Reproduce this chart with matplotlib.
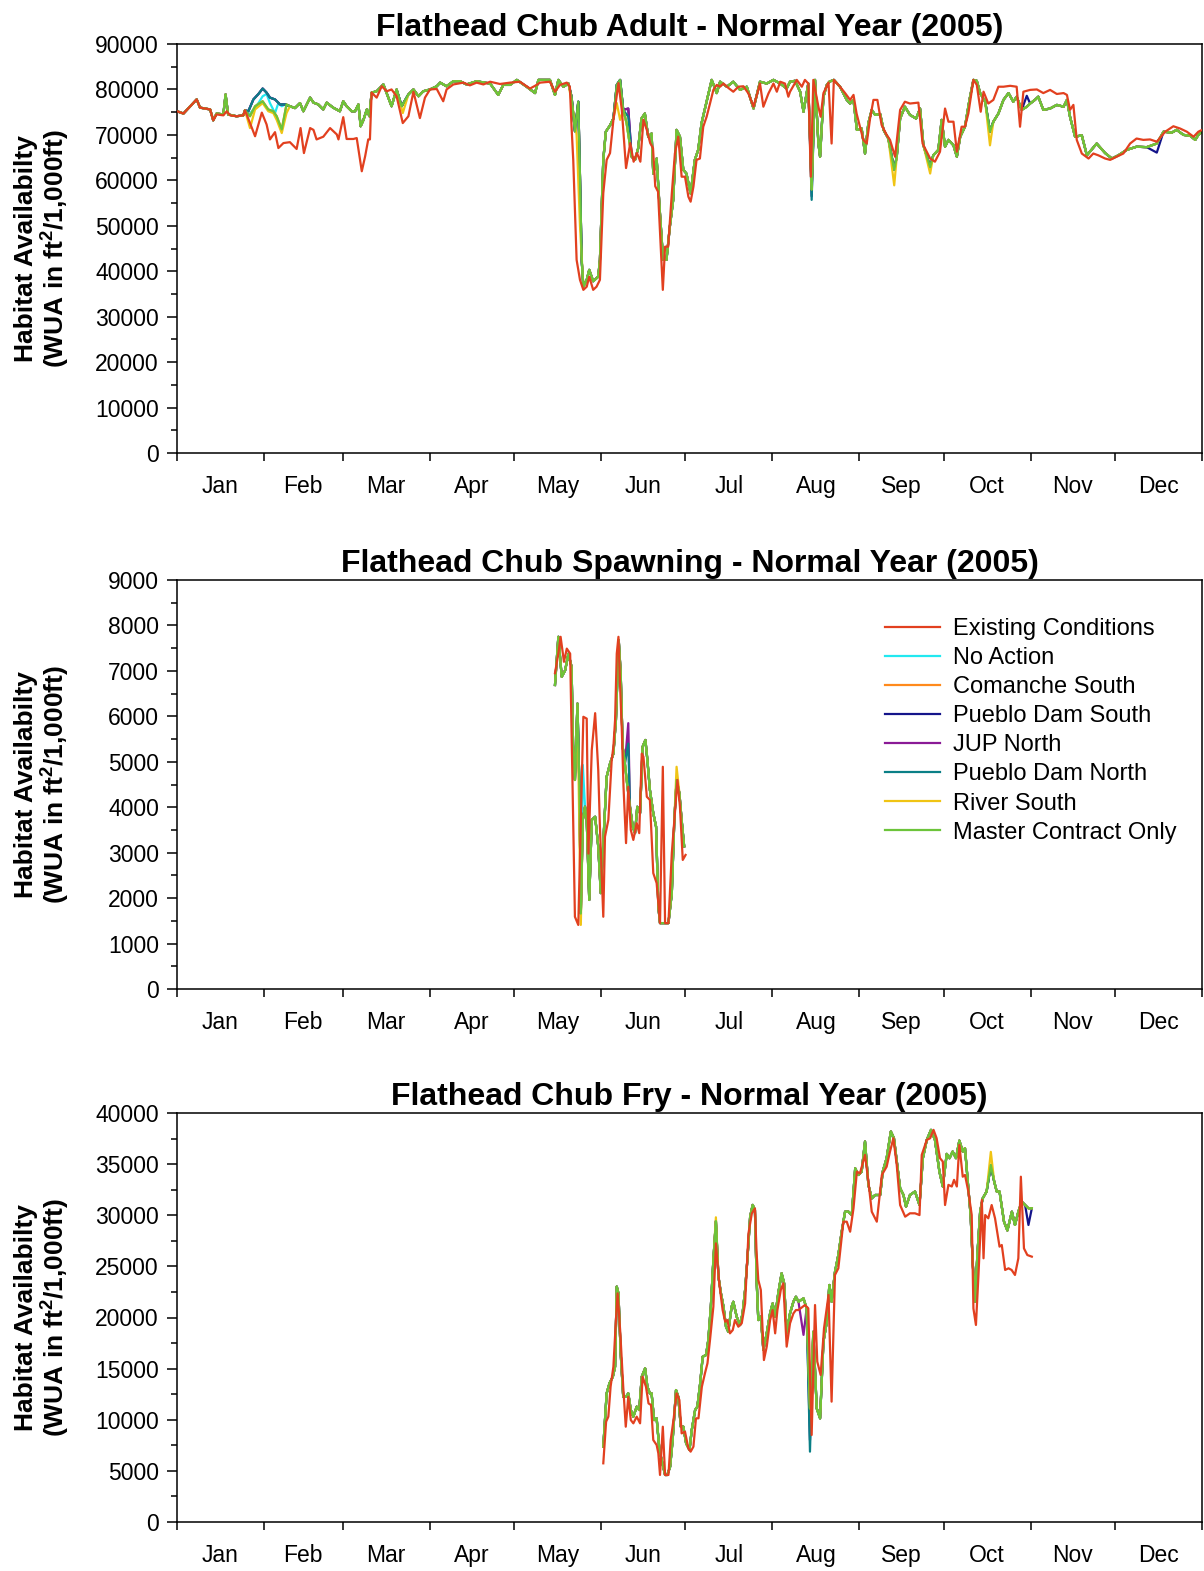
import matplotlib.pyplot as plt
from matplotlib.ticker import MultipleLocator

plt.rcParams['font.family'] = ['Liberation Sans', 'DejaVu Sans']
plt.rcParams['mathtext.fontset'] = 'custom'
plt.rcParams['mathtext.rm'] = 'Liberation Sans:bold'
plt.rcParams['mathtext.default'] = 'rm'

scenarios = ["Existing Conditions", "No Action", "Comanche South", "Pueblo Dam South",
             "JUP North", "Pueblo Dam North", "River South", "Master Contract Only"]
colors = ["#e2401f", "#22e8f0", "#ff8a1c", "#14148a", "#8a1a96", "#0a7f86", "#f0c414", "#6cc43a"]

month_starts = [0, 31, 59, 90, 120, 151, 181, 212, 243, 273, 304, 334, 365]
month_names = ["Jan", "Feb", "Mar", "Apr", "May", "Jun", "Jul", "Aug", "Sep", "Oct", "Nov", "Dec"]

# ---------------- Adult ----------------
adult_ec_day = [0, 2.3, 7, 8.2, 11.8, 12.9, 14.1, 16.5, 17.7, 18.9, 21.2, 23.6, 24.2, 26, 27.8, 30.2,
                31.9, 33.1, 34.9, 36.1, 37.9, 40.2, 42.6, 44, 45.2, 47.4, 48.6, 49.7, 52.1, 54.5, 56.9,
                57.5, 59.2, 60.4, 62.8, 64, 65.8, 67, 68.1, 68.7, 69.3, 71.1, 72.9, 74.7, 76.4, 78.2,
                80.4, 82.4, 84.2, 86.5, 88.3, 90.1, 92.5, 94.8, 96, 98.4, 102, 104.3, 106.7, 109.1,
                111.5, 115.0, 118.6, 122.1, 125.7, 127.5, 129.3, 132.8, 134.6, 136.4, 138.8, 139.9,
                140.5, 141.1, 142.3, 143.5, 144.7, 145.9, 146.8, 148.2, 149.4, 150.6, 151.8, 153.0,
                154.2, 155.4, 157.2, 158.4, 159.9, 161.4, 162.6, 163.8, 165.0, 166.1, 167.3, 168.5,
                169.5, 170.3, 171.3, 173.0, 173.8, 174.9, 176.2, 177.3, 178.5, 179.7, 180.9, 182.1,
                182.9, 183.9, 185.0, 186.2, 187.4, 188.6, 189.8, 191.0, 192.2, 193.4, 194.6, 196.4,
                198.1, 199.9, 201.7, 203.5, 205.3, 207.0, 207.6, 208.8, 210.6, 212.4, 213.6, 214.8,
                216.5, 217.7, 218.3, 220.7, 222.5, 223.6, 224.8, 225.7, 226.6, 228.4, 229.2, 230.2,
                232.0, 233.1, 233.9, 236.1, 237.9, 239.7, 240.9, 242.0, 243.2, 244.4, 245.6, 246.8,
                248.0, 249.4, 250.9, 252.7, 253.9, 255.7, 257.5, 259.2, 261.0, 264.0, 265.5, 268.2,
                269.9, 271.7, 273.5, 274.7, 276.5, 277.7, 279.4, 280.6, 281.8, 283.6, 284.8, 286.2,
                287.2, 288.9, 290.7, 292.5, 294.3, 296.7, 299.0, 300.2, 301.4, 303.8, 306.2, 308.5,
                310.9, 313.3, 315.7, 316.9, 318.0, 319.2, 320.4, 322.2, 324.6, 326.3, 328.1, 330.5,
                332.3, 334.6, 337.0, 339.4, 341.7, 344.1, 346.5, 348.9, 351.9, 354.8, 357.2, 359.6,
                362.0, 363.7, 365.0]
adult_ec_val = [75200, 74700, 77800, 76000, 75600, 73200, 74500, 74300, 75200, 74300, 74100, 74300, 75400,
                72600, 69700, 74900, 72300, 69000, 70600, 67100, 68200, 68400, 66900, 71500, 66000,
                71500, 71100, 69000, 69600, 71500, 70100, 69000, 73900, 69100, 69100, 69300, 62000,
                65300, 69000, 69000, 79300, 78200, 80700, 79600, 80000, 78500, 72600, 74100, 79500,
                73700, 78200, 80000, 80100, 77400, 80000, 81100, 81500, 80900, 81500, 81100,
                81700, 81200, 81500, 81700, 80200, 80800, 81500, 81700, 79500, 81000, 81500, 80600,
                71800, 64500, 42500, 38100, 35900, 36600, 38800, 35900, 36600, 38100, 57200, 64500,
                66000, 73300, 81400, 75500, 62700, 68200, 64100, 66000, 64100, 73300, 71100, 68200,
                67100, 58700, 57500, 35900, 45400, 45400, 57100, 65900, 69600, 60800, 60800, 56400,
                55300, 58600, 64500, 64800, 71800, 74000, 76900, 79900, 81000, 80600, 81300, 80300,
                79500, 80600, 80700, 79100, 76200, 79900, 81300, 76200, 79100, 81300, 79500, 81700,
                81300, 78400, 79500, 82100, 80600, 82100, 81300, 60800, 82100, 76200, 74000, 79200,
                81500, 68100, 82100, 80600, 79200, 77700, 78800, 74700, 71800, 68900, 68100, 73600,
                77700, 77700, 72200, 70000, 68900, 65200, 75500, 77300, 76900, 77100, 68100, 64800,
                64100, 66300, 75800, 72900, 72900, 66300, 71800, 71800, 74700, 82100, 81000, 75100,
                79500, 76900, 77700, 80600, 80600, 80800, 80600, 71800, 79500, 79900, 80000, 79200,
                79900, 79000, 79200, 78800, 75500, 76600, 68900, 65900, 64800, 65900, 65500, 64800,
                64500, 65200, 65900, 68100, 69200, 68900, 69000, 68500, 70700, 71900, 71400, 70700,
                69600, 70700, 71100]

adult_alt_day = [0, 2.3, 7, 8.2, 11.8, 12.9, 14.1, 16.5, 17.3, 18.2, 21.2, 23.6, 24.2, 26, 27.8, 30.5,
                 32.5, 34.3, 35.5, 37.3, 39.0, 40.2, 42, 43.8, 45, 47.4, 48.6, 50.3, 52.1, 53.3, 55.6,
                 58, 59.2, 60.4, 62.2, 63.4, 64.6, 65.4, 66.4, 67.6, 68.5, 69.3, 71.1, 73.5, 76.4, 78.2,
                 80, 82.4, 84.2, 86, 87.7, 90.1, 92.5, 93.7, 96, 98.4, 100.8, 103.1, 106.7, 111.5,
                 114.4, 116.2, 118.6, 121.0, 124.5, 127.5, 128.7, 132.8, 134.6, 135.8, 137.6, 139.4,
                 140.5, 141.7, 142.9, 143.5, 144.1, 144.7, 145.9, 146.8, 148.2, 150.0, 150.6, 151.8,
                 152.7, 154.2, 155.4, 156.6, 157.8, 158.9, 160.1, 161.9, 163.1, 164.2, 165.4, 166.6,
                 167.8, 169.0, 169.6, 170.8, 171.9, 173.1, 174.3, 175.5, 176.7, 177.9, 179.1, 180.3,
                 181.4, 182.9, 184.4, 185.6, 186.8, 188.6, 190.4, 192.2, 193.4, 195.8, 198.1, 200.5,
                 202.9, 205.3, 207.6, 210.0, 212.4, 214.8, 217.1, 218.3, 220.1, 221.9, 223.1, 224.0,
                 224.8, 226.0, 227.2, 228.4, 229.0, 230.2, 231.4, 232.3, 233.9, 236.1, 238.5, 239.7,
                 240.9, 242.1, 243.8, 245.0, 246.2, 247.4, 248.6, 250.4, 251.6, 253.3, 255.4, 256.3,
                 257.5, 259.2, 261.0, 263.2, 264.6, 265.8, 268.2, 269.3, 271.1, 272.3, 273.5, 274.7,
                 276.5, 277.7, 278.9, 280.6, 282.2, 283.6, 284.8, 286.0, 287.8, 289.5, 290.7, 292.5,
                 294.3, 296.1, 297.8, 299.0, 300.8, 302.6, 303.8, 305.5, 306.7, 308.5, 310.9, 313.3,
                 315.7, 316.9, 318.0, 319.8, 322.2, 324.0, 327.5, 330.5, 332.9, 335.2, 338.2, 341.7,
                 345.3, 348.9, 351.3, 354.2, 356.0, 358.4, 360.8, 362.6, 363.7, 365.0]
adult_alt_val = [75200, 74700, 77800, 76000, 75600, 73200, 74700, 74500, 78900, 74500, 74100, 74300, 75400,
                 74100, 76300, 77400, 75600, 75200, 74100, 71200, 76700, 76300, 75900, 77000, 75200,
                 78200, 77100, 76700, 75600, 77100, 76000, 75200, 77400, 76300, 75200, 75200, 76700,
                 71900, 73300, 75600, 74100, 79300, 79600, 81100, 76300, 80000, 76300, 78900, 80000,
                 78500, 79600, 80000, 80700, 81500, 80700, 81800, 81800, 81100, 81800, 81300,
                 78800, 81000, 81000, 82100, 80600, 79200, 82100, 82100, 78800, 82100, 80600, 81300,
                 78400, 70800, 77300, 60800, 42500, 36600, 38100, 40300, 37800, 38800, 42500, 64500,
                 70700, 72100, 73600, 81000, 82100, 75500, 72600, 65200, 64500, 67000, 73600, 74700,
                 69600, 70300, 61500, 64800, 53500, 42500, 42500, 49800, 55700, 71100, 69600, 62300,
                 61500, 57100, 64500, 66700, 72600, 77300, 82100, 79200, 81700, 80600, 81700, 79900,
                 80600, 75800, 81700, 81300, 82100, 81300, 80200, 81700, 81900, 79500, 75100, 78400,
                 81300, 58000, 82100, 68100, 65200, 78400, 81000, 81700, 82100, 80600, 77700, 76900,
                 77700, 71100, 71400, 65900, 72600, 75500, 74400, 74600, 71100, 69200, 62300, 65200,
                 73600, 76200, 74400, 73600, 75800, 67700, 62900, 65500, 66700, 73300, 67400, 68900,
                 67700, 65200, 69600, 71800, 77700, 82100, 81900, 79200, 77300, 70700, 72900, 74700,
                 77700, 79200, 77300, 78400, 75500, 76200, 76900, 77700, 78400, 75500, 75800, 76600,
                 76200, 77700, 74000, 69600, 69900, 65500, 68100, 66000, 64800, 65500, 66700, 67400,
                 67300, 68100, 70700, 70500, 71100, 70000, 69800, 68900, 70000, 70700]

# departures of single scenarios from the shared alternative line (adult)
adult_hump_day = [24.2, 25.4, 27.2, 29.0, 30.5, 31.9, 33.1, 34.9, 36.7, 38.5, 40.2]
adult_hump_val = [75400, 75200, 77800, 79000, 80200, 79300, 78200, 77800, 76700, 76700, 76300]
adult_cyan_feb_day = [24.2, 25.4, 27.2, 29.0, 30.5, 31.9, 33.1, 34.9, 36.1, 37.3, 38.5, 40.2]
adult_cyan_feb_val = [75400, 74300, 75600, 77000, 78500, 79000, 77000, 74800, 77000, 76300, 76700, 76300]
adult_yel_feb_day = [24.2, 26, 27.8, 30.5, 32.5, 34.3, 35.5, 37.3, 39.0, 40.2]
adult_yel_feb_val = [75400, 71500, 75600, 77000, 75200, 74800, 73300, 70400, 74800, 76300]
adult_yel_mar_day = [78.2, 80.4, 82.4]
adult_yel_mar_val = [80000, 74800, 78900]
adult_yel_may_day = [139.4, 141.1, 142.3, 143.5, 144.7]
adult_yel_may_val = [81300, 75000, 70000, 50000, 36600]
adult_yel_jun_day = [155.4, 156.6, 157.8, 158.9]
adult_yel_jun_val = [73600, 77000, 73300, 75500]
adult_pur_jun_day = [158.9, 160.7, 161.9]
adult_pur_jun_val = [75500, 75800, 65200]
adult_teal_jun_val = [75500, 74000, 65200]
adult_aug_day = [224.8, 226.0, 227.2]
adult_teal_aug_val = [81300, 55700, 82100]
adult_navy_aug_val = [81300, 56500, 82100]
adult_yel_sep1_day = [253.3, 255.4, 256.3]
adult_yel_sep1_val = [69200, 58900, 65200]
adult_yel_sep2_day = [265.8, 268.2, 269.3]
adult_yel_sep2_val = [67700, 61500, 65500]
adult_yel_oct_day = [287.8, 289.5, 290.7]
adult_yel_oct_val = [77300, 67700, 72900]
adult_navy_oct_day = [300.8, 302.6, 303.8]
adult_navy_oct_val = [75500, 78600, 76900]
adult_navy_dec_day = [345.3, 348.9, 351.3]
adult_navy_dec_val = [67300, 66100, 70700]

# ---------------- Spawning ----------------
spawn_ec_day = [134.6, 135.8, 136.6, 137.8, 138.8, 140.0, 141.7, 142.9, 144.7, 145.9, 146.5, 147.7, 148.9,
                150.0, 150.6, 151.8, 152.4, 153.6, 154.8, 155.4, 156.0, 156.6, 157.2, 157.8, 158.4,
                159.0, 159.9, 160.7, 161.6, 162.5, 163.7, 164.6, 165.5, 166.1, 167.3, 168.4, 169.6,
                170.8, 172.0, 173.0, 173.8, 175.0, 176.2, 177.3, 178.2, 179.1, 180.1, 181.1]
spawn_ec_val = [6950, 7380, 7750, 7200, 7490, 7380, 1590, 1410, 5990, 5950, 2980, 5260, 6070,
                4820, 3570, 1590, 3350, 3720, 5040, 5330, 5920, 7380, 7750, 6650, 5700,
                4450, 3210, 4450, 3500, 3280, 3650, 3430, 5180, 5110, 4230, 4160, 2550,
                2330, 1450, 4890, 1450, 1450, 2990, 3870, 4600, 4010, 2840, 2950]
spawn_alt_day = [134.6, 135.8, 137.0, 138.2, 139.4, 140.5, 141.1, 141.7, 142.6, 143.3, 143.8, 144.5,
                 145.3, 145.9, 146.8, 147.7, 148.9, 150.0, 150.9, 153.0, 154.2, 155.4, 156.3, 157.3,
                 158.0, 158.7, 159.5, 160.4, 161.3, 162.3, 163.1, 163.9, 164.9, 165.8, 166.8, 167.5,
                 168.4, 169.6, 170.6, 171.4, 172.0, 173.4, 175.0, 176.2, 177.1, 177.9, 178.9, 179.7,
                 180.6]
spawn_alt_val = [6690, 7750, 6870, 7010, 7380, 7090, 5190, 4600, 6280, 4450, 1660, 3720,
                 4010, 3720, 1960, 3720, 3790, 3140, 2110, 4670, 4960, 5180, 5920, 7680,
                 6940, 5330, 4960, 4450, 4010, 3570, 3430, 4010, 3870, 5330, 5480, 5040,
                 4380, 3870, 3570, 1810, 1450, 1450, 1450, 2110, 3720, 4600, 4310, 3720,
                 3140]
spawn_yel1_day = [142.6, 143.8, 144.5]
spawn_yel1_val = [6280, 1410, 3720]
spawn_yel2_day = [177.1, 177.9, 178.9]
spawn_yel2_val = [3720, 4890, 4310]
spawn_cyan_day = [143.8, 144.5, 145.3]
spawn_cyan_val = [1660, 4930, 4010]
spawn_jun_day = [159.5, 160.7, 161.3]
spawn_pur_jun_val = [4960, 5850, 4010]
spawn_teal_jun_val = [4960, 5400, 4010]

# ---------------- Fry ----------------
fry_ec_day = [151.8, 152.8, 153.6, 154.4, 155.4, 156.3, 156.9, 157.8, 158.9, 159.8, 160.7, 161.6, 162.5,
              163.1, 163.7, 164.9, 165.8, 167.0, 167.9, 168.8, 169.6, 170.8, 171.4, 172.0, 173.0, 173.8,
              175.0, 175.8, 176.8, 177.9, 178.9, 179.7, 180.9, 182.1, 182.9, 183.9, 184.8, 185.7, 186.9,
              188.0, 188.9, 189.8, 191.0, 191.9, 193.1, 194.3, 195.2, 196.0, 196.9, 197.9, 198.7, 199.3,
              199.9, 201.1, 202.3, 203.5, 204.7, 205.8, 206.4, 207.0, 207.9, 209.0, 210.0, 211.2, 212.1,
              213.0, 213.8, 215.0, 215.9, 217.1, 218.3, 219.5, 220.4, 221.3, 223.6, 224.8, 226.0, 227.2,
              228.0, 229.2, 230.4, 232.0, 233.1, 234.3, 235.5, 237.3, 238.5, 239.7, 240.9, 242.1, 243.2,
              245.0, 246.2, 247.4, 249.2, 251.0, 252.7, 253.9, 255.1, 256.3, 257.5, 259.3, 261.0, 262.8,
              264.4, 265.2, 267.0, 268.2, 269.4, 270.5, 271.7, 272.7, 273.5, 274.7, 275.9, 276.7, 277.7,
              278.6, 279.8, 280.6, 281.8, 283.0, 283.6, 284.5, 285.4, 286.6, 287.2, 287.8, 288.9, 290.1,
              291.3, 292.9, 293.7, 294.9, 296.1, 297.2, 298.4, 299.6, 300.5, 301.6, 302.8, 304.4]
fry_ec_val = [5740, 9810, 10300, 13230, 15190, 19750, 22360, 18770, 13230, 9320, 12250, 9970, 9650,
              9970, 10300, 9650, 14210, 13230, 11600, 11440, 8020, 7530, 6720, 4600, 9320, 4600,
              4600, 8020, 9970, 12580, 11930, 8670, 8830, 7200, 6880, 7370, 10140, 10140, 13230,
              14540, 15520, 17800, 21060, 27250, 23340, 20730, 19590, 19750, 18450, 18770, 19750, 19430,
              19100, 19430, 21380, 28230, 30180, 30670, 26270, 23670, 22690, 15840, 17150, 19750, 20730,
              18450, 20730, 22690, 23340, 17150, 19430, 20400, 20730, 20730, 21220, 20900, 8510, 21220,
              15680, 14380, 18940, 22200, 11770, 24160, 24810, 29370, 29370, 28390, 30680, 34260, 34100,
              35900, 33300, 30350, 29370, 33940, 34750, 36230, 37530, 34910, 31000, 29860, 30190, 30190,
              30020, 35900, 37370, 37530, 38350, 37530, 35580, 35250, 31000, 32970, 32810, 33460, 32810,
              36880, 33770, 33940, 32320, 30020, 20890, 19270, 24160, 31490, 25790, 30020, 29700, 31000,
              29700, 26930, 27090, 24650, 24810, 24650, 24160, 25790, 33770, 26760, 26110, 25950]
fry_alt_day = [151.8, 152.4, 153.0, 154.0, 155.2, 156.0, 156.6, 157.2, 158.0, 158.9, 159.9, 160.7, 161.6,
               162.5, 163.7, 164.6, 165.5, 166.7, 167.5, 168.4, 169.0, 169.9, 170.8, 171.8, 172.6, 173.8,
               174.6, 175.6, 176.5, 177.7, 178.5, 179.4, 180.3, 181.3, 182.5, 183.3, 184.5, 185.3, 186.3,
               187.2, 188.4, 189.2, 190.1, 191.0, 191.9, 192.8, 193.7, 194.6, 195.5, 196.3, 197.5, 198.1,
               199.3, 200.5, 201.4, 202.3, 203.1, 204.1, 205.0, 205.8, 206.4, 207.0, 207.9, 208.8, 210.0,
               211.2, 212.1, 213.0, 214.1, 215.3, 216.2, 217.1, 218.3, 219.5, 220.4, 221.3, 223.1, 224.2,
               225.4, 226.6, 227.8, 229.0, 230.2, 231.4, 232.3, 233.1, 234.3, 235.5, 236.7, 237.9, 239.1,
               240.3, 241.5, 242.6, 243.8, 245.0, 246.2, 247.4, 248.6, 250.4, 251.3, 252.7, 254.2, 255.3,
               256.5, 257.5, 258.7, 259.6, 261.0, 262.8, 264.4, 265.6, 267.0, 268.5, 269.9, 271.5, 272.7,
               274.1, 275.1, 276.2, 277.4, 278.6, 279.8, 280.6, 281.8, 282.6, 283.4, 284.2, 285.0, 286.0,
               286.9, 288.3, 289.8, 291.0, 291.9, 292.9, 294.5, 295.7, 297.3, 298.4, 299.6, 300.8, 302.0,
               303.2, 304.4]
fry_alt_val = [7370, 9970, 12580, 13560, 14210, 15190, 23020, 22360, 16490, 12250, 12250, 12580, 10950,
               10300, 11280, 10950, 14210, 15030, 13230, 12580, 12580, 9970, 10140, 7040, 6070, 4600,
               4600, 5410, 8020, 12900, 12250, 9320, 9320, 7690, 7040, 8990, 10950, 11280, 13560,
               16170, 16330, 17800, 21060, 25620, 29430, 24000, 22360, 21060, 19100, 18610, 21060, 21540,
               20080, 19260, 20400, 22690, 25620, 29870, 31010, 30510, 23670, 19750, 20080, 16820, 18450,
               20400, 21380, 20080, 22360, 24320, 23340, 18450, 20400, 21540, 22030, 21540, 21870, 20890,
               11110, 18610, 11110, 10140, 17640, 19590, 23180, 21550, 24450, 26110, 28390, 30350, 30350,
               30020, 34590, 33940, 34260, 37210, 32970, 31650, 31980, 31980, 34260, 35580, 38190, 37530,
               34910, 32640, 31980, 30840, 31980, 32320, 31000, 35580, 37370, 38350, 37370, 34260, 32810,
               36000, 35580, 36230, 35580, 37300, 36230, 36560, 32640, 30020, 25140, 21550, 26110, 30350,
               31650, 32320, 34910, 33300, 32320, 32320, 29370, 28510, 30350, 29050, 30350, 31330, 31000,
               30680, 30680]
fry_aug_day = [224.2, 225.4, 226.6]
fry_teal_aug_val = [20890, 6880, 18610]
fry_navy_aug_val = [20890, 8000, 18610]
fry_pur_aug_day = [221.3, 223.1, 224.2]
fry_pur_aug_val = [21540, 18300, 20890]
fry_yel1_day = [191.0, 191.9, 192.8]
fry_yel1_val = [25620, 29800, 24000]
fry_yel2_day = [288.3, 289.8, 291.0]
fry_yel2_val = [32320, 36200, 33300]
fry_navy_end_day = [302.0, 303.2, 304.4]
fry_navy_end_val = [31000, 29050, 30670]


def patched(days, vals, segments):
    pts = list(zip(days, vals))
    for sd, sv in segments:
        pts = [p for p in pts if p[0] < sd[0] or p[0] > sd[-1]] + list(zip(sd, sv))
        pts.sort()
    return [p[0] for p in pts], [p[1] for p in pts]


adult_patches = {
    "No Action": [(adult_cyan_feb_day, adult_cyan_feb_val)],
    "Comanche South": [],
    "Pueblo Dam South": [(adult_hump_day, adult_hump_val), (adult_pur_jun_day, adult_pur_jun_val),
                         (adult_aug_day, adult_navy_aug_val), (adult_navy_oct_day, adult_navy_oct_val),
                         (adult_navy_dec_day, adult_navy_dec_val)],
    "JUP North": [(adult_hump_day, adult_hump_val), (adult_pur_jun_day, adult_pur_jun_val)],
    "Pueblo Dam North": [(adult_hump_day, adult_hump_val), (adult_pur_jun_day, adult_teal_jun_val),
                         (adult_aug_day, adult_teal_aug_val)],
    "River South": [(adult_yel_feb_day, adult_yel_feb_val), (adult_yel_mar_day, adult_yel_mar_val),
                    (adult_yel_may_day, adult_yel_may_val), (adult_yel_jun_day, adult_yel_jun_val),
                    (adult_yel_sep1_day, adult_yel_sep1_val), (adult_yel_sep2_day, adult_yel_sep2_val),
                    (adult_yel_oct_day, adult_yel_oct_val)],
    "Master Contract Only": [],
}
spawn_patches = {
    "No Action": [(spawn_cyan_day, spawn_cyan_val)],
    "Comanche South": [],
    "Pueblo Dam South": [],
    "JUP North": [(spawn_jun_day, spawn_pur_jun_val)],
    "Pueblo Dam North": [(spawn_jun_day, spawn_teal_jun_val)],
    "River South": [(spawn_yel1_day, spawn_yel1_val), (spawn_yel2_day, spawn_yel2_val)],
    "Master Contract Only": [],
}
fry_patches = {
    "No Action": [],
    "Comanche South": [],
    "Pueblo Dam South": [(fry_aug_day, fry_navy_aug_val), (fry_navy_end_day, fry_navy_end_val)],
    "JUP North": [(fry_pur_aug_day, fry_pur_aug_val)],
    "Pueblo Dam North": [(fry_aug_day, fry_teal_aug_val)],
    "River South": [(fry_yel1_day, fry_yel1_val), (fry_yel2_day, fry_yel2_val)],
    "Master Contract Only": [],
}

panels = [
    ("Flathead Chub Adult - Normal Year (2005)", adult_ec_day, adult_ec_val, adult_alt_day, adult_alt_val,
     adult_patches, 90000, 10000, 5000),
    ("Flathead Chub Spawning - Normal Year (2005)", spawn_ec_day, spawn_ec_val, spawn_alt_day, spawn_alt_val,
     spawn_patches, 9000, 1000, 500),
    ("Flathead Chub Fry - Normal Year (2005)", fry_ec_day, fry_ec_val, fry_alt_day, fry_alt_val,
     fry_patches, 40000, 5000, 2500),
]

fig = plt.figure(figsize=(12.04, 15.71), dpi=100)
bottoms = [1 - 453 / 1571, 1 - 989 / 1571, 1 - 1522 / 1571]
left, width, height = 177 / 1204, 1025 / 1204, 409 / 1571

for i, (title, ec_d, ec_v, alt_d, alt_v, patches, ymax, major, minor) in enumerate(panels):
    ax = fig.add_axes([left, bottoms[i], width, height])
    for name, col in zip(scenarios[1:], colors[1:]):
        d, v = patched(alt_d, alt_v, patches[name])
        ax.plot(d, v, color=col, lw=1.6, label=name, zorder=2)
    ax.plot(ec_d, ec_v, color=colors[0], lw=1.6, label=scenarios[0], zorder=3)

    ax.set_xlim(0, 365)
    ax.set_ylim(0, ymax)
    ax.set_xticks(month_starts)
    ax.set_xticklabels([])
    ax.set_xticks([(a + b) / 2 for a, b in zip(month_starts[:-1], month_starts[1:])], minor=True)
    ax.set_xticklabels(month_names, minor=True, fontsize=16.5)
    ax.tick_params(axis='x', which='major', direction='out', length=6, width=1.1)
    ax.tick_params(axis='x', which='minor', length=0, pad=16)
    ax.yaxis.set_major_locator(MultipleLocator(major))
    ax.yaxis.set_minor_locator(MultipleLocator(minor))
    ax.tick_params(axis='y', which='major', direction='out', length=7, width=1.1, labelsize=16.5, pad=6)
    ax.tick_params(axis='y', which='minor', direction='out', length=4, width=1.1)
    for s in ax.spines.values():
        s.set_linewidth(1.1)
    ax.set_title(title, fontsize=23, fontweight='bold', pad=6)
    ax.set_ylabel("Habitat Availabilty\n(WUA in ft$^2$/1,000ft)", fontsize=19, fontweight='bold',
                  linespacing=1.1)
    ax.yaxis.set_label_coords(-0.102, 0.5)

    if i == 1:
        h, l = ax.get_legend_handles_labels()
        order = [7] + list(range(7))
        ax.legend([h[k] for k in order], [l[k] for k in order], loc='upper left',
                  bbox_to_anchor=(0.6907, 0.907), frameon=False, fontsize=17,
                  handlelength=2.35, handletextpad=0.55, labelspacing=0.3,
                  borderpad=0, borderaxespad=0)

fig.savefig("out.png", dpi=100)
